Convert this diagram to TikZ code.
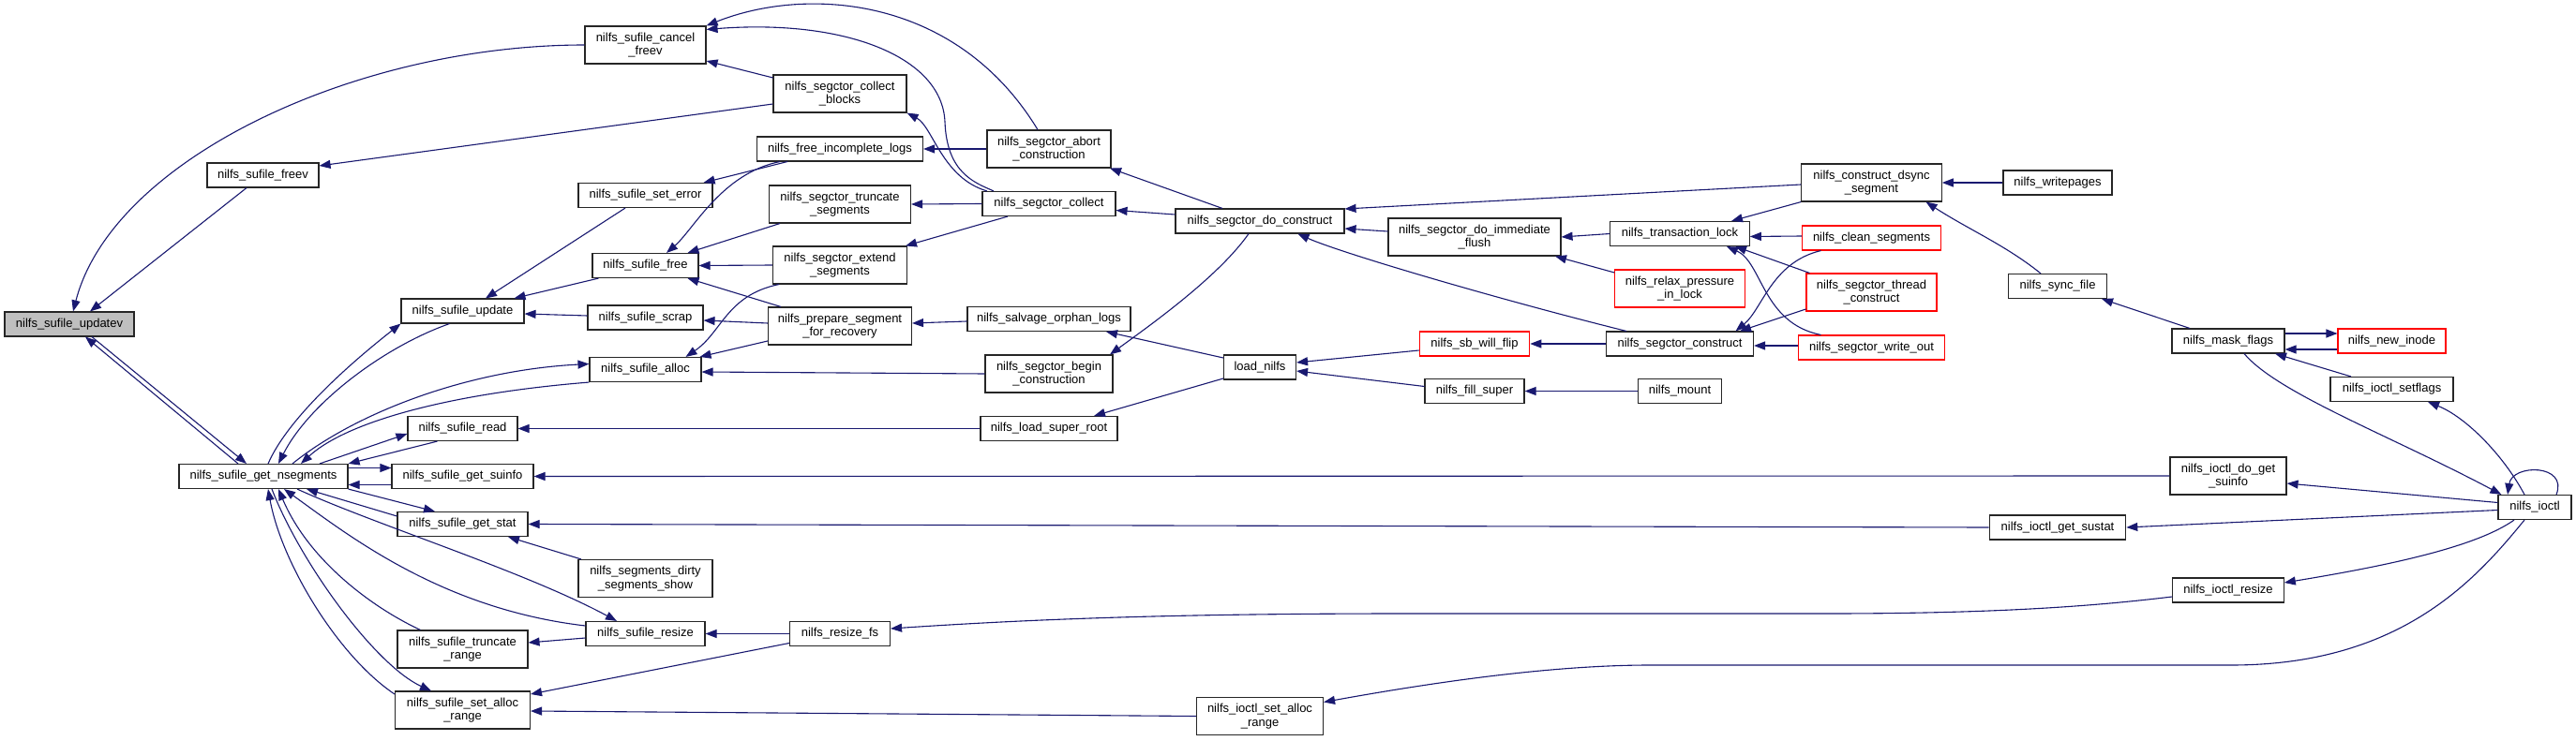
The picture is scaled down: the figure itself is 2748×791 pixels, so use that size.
\documentclass[tikz,border=0pt]{standalone}
\usepackage{fontspec}
\setmainfont{Liberation Sans}
\usetikzlibrary{arrows.meta}
\definecolor{edgecol}{HTML}{191970}
\tikzset{
  box/.style={draw=black!85, line width=1.1pt, fill=white, inner sep=0pt, align=center,
              font=\fontsize{13}{14.5}\selectfont},
  redbox/.style={box, draw=red},
  hl/.style={box, fill=black!25},
  one/.style={minimum height=26pt},
  two/.style={minimum height=40pt},
  edge/.style={draw=edgecol, line width=1.1pt, {Triangle[length=12pt,width=9pt]}-},
}
\begin{document}
\begin{tikzpicture}[x=1pt,y=-1pt]
\fill[white] (0,0) rectangle (2748,791);
\useasboundingbox (0,0) rectangle (2748,791);
% column 0-1
\node[hl,one,minimum width=138pt] (updatev) at (74,346) {nilfs\_sufile\_updatev};
\node[box,one,minimum width=119pt] (freev) at (280.5,187) {nilfs\_sufile\_freev};
\node[box,one,minimum width=180pt] (nsegments) at (281,508.5) {nilfs\_sufile\_get\_nsegments};
% column 2
\node[box,one,minimum width=131pt] (update) at (493.5,332) {nilfs\_sufile\_update};
\node[box,one,minimum width=117pt] (read) at (493.5,457.5) {nilfs\_sufile\_read};
\node[box,one,minimum width=151pt] (suinfo) at (493.5,508.5) {nilfs\_sufile\_get\_suinfo};
\node[box,one,minimum width=139pt] (stat) at (493.5,559.5) {nilfs\_sufile\_get\_stat};
\node[box,two,minimum width=139pt] (truncrange) at (493.5,693) {nilfs\_sufile\_truncate\\\_range};
\node[box,two,minimum width=144pt] (setalloc) at (493.5,758) {nilfs\_sufile\_set\_alloc\\\_range};
% column 3
\node[box,two,minimum width=129pt] (cancel) at (688.5,48) {nilfs\_sufile\_cancel\\\_freev};
\node[box,one,minimum width=143pt] (seterror) at (688.5,208.5) {nilfs\_sufile\_set\_error};
\node[box,one,minimum width=113pt] (free) at (688.5,283.5) {nilfs\_sufile\_free};
\node[box,one,minimum width=123pt] (scrap) at (688.5,339) {nilfs\_sufile\_scrap};
\node[box,one,minimum width=119pt] (alloc) at (688.5,394.5) {nilfs\_sufile\_alloc};
\node[box,two,minimum width=143pt] (dirty) at (688.5,617.5) {nilfs\_segments\_dirty\\\_segments\_show};
\node[box,one,minimum width=127pt] (resize) at (688.5,676.5) {nilfs\_sufile\_resize};
% column 4
\node[box,two,minimum width=142pt] (cblocks) at (896,100) {nilfs\_segctor\_collect\\\_blocks};
\node[box,one,minimum width=177pt] (incomplete) at (896,159) {nilfs\_free\_incomplete\_logs};
\node[box,two,minimum width=151pt] (truncseg) at (896,218) {nilfs\_segctor\_truncate\\\_segments};
\node[box,two,minimum width=143pt] (extend) at (896,283) {nilfs\_segctor\_extend\\\_segments};
\node[box,two,minimum width=153pt] (prepare) at (896,348) {nilfs\_prepare\_segment\\\_for\_recovery};
\node[box,one,minimum width=107pt] (resizefs) at (896,676.5) {nilfs\_resize\_fs};
% column 5
\node[box,two,minimum width=132pt] (abort) at (1119,159) {nilfs\_segctor\_abort\\\_construction};
\node[box,one,minimum width=142pt] (collect) at (1119,217.5) {nilfs\_segctor\_collect};
\node[box,one,minimum width=174pt] (salvage) at (1119,340.5) {nilfs\_salvage\_orphan\_logs};
\node[box,two,minimum width=136pt] (begin) at (1119,399) {nilfs\_segctor\_begin\\\_construction};
\node[box,one,minimum width=146pt] (superroot) at (1119,457.5) {nilfs\_load\_super\_root};
% column 6
\node[box,one,minimum width=180pt] (doconstruct) at (1344,236) {nilfs\_segctor\_do\_construct};
\node[box,one,minimum width=77pt] (loadnilfs) at (1344,392) {load\_nilfs};
\node[box,two,minimum width=135pt] (ioctlsetalloc) at (1344,764.5) {nilfs\_ioctl\_set\_alloc\\\_range};
% column 7
\node[box,two,minimum width=184pt] (flush) at (1573,253) {nilfs\_segctor\_do\_immediate\\\_flush};
\node[redbox,one,minimum width=117.5pt] (flip) at (1573,367) {nilfs\_sb\_will\_flip};
\node[box,one,minimum width=106pt] (fillsuper) at (1573,417.5) {nilfs\_fill\_super};
% column 8
\node[box,one,minimum width=148.5pt] (lock) at (1792,249.5) {nilfs\_transaction\_lock};
\node[redbox,two,minimum width=138.5pt] (relax) at (1792,308) {nilfs\_relax\_pressure\\\_in\_lock};
\node[box,one,minimum width=157pt] (construct) at (1792,367) {nilfs\_segctor\_construct};
\node[box,one,minimum width=89pt] (mount) at (1792,417.5) {nilfs\_mount};
% column 9
\node[box,two,minimum width=149.5pt] (dsync) at (1996.5,195) {nilfs\_construct\_dsync\\\_segment};
\node[redbox,one,minimum width=147.5pt] (clean) at (1996.5,254) {nilfs\_clean\_segments};
\node[redbox,two,minimum width=139pt] (thread) at (1996.5,312) {nilfs\_segctor\_thread\\\_construct};
\node[redbox,one,minimum width=156.5pt] (writeout) at (1996.5,371) {nilfs\_segctor\_write\_out};
% column 10
\node[box,one,minimum width=116pt] (writepages) at (2195,195) {nilfs\_writepages};
\node[box,one,minimum width=105pt] (syncfile) at (2195,305.5) {nilfs\_sync\_file};
\node[box,one,minimum width=145.5pt] (sustat) at (2195,563) {nilfs\_ioctl\_get\_sustat};
% column 11
\node[box,one,minimum width=120pt] (maskflags) at (2377,364) {nilfs\_mask\_flags};
\node[box,two,minimum width=124pt] (dogetsuinfo) at (2377,508) {nilfs\_ioctl\_do\_get\\\_suinfo};
\node[box,one,minimum width=118.5pt] (ioctlresize) at (2377,630) {nilfs\_ioctl\_resize};
% column 12-13
\node[redbox,one,minimum width=115pt] (newinode) at (2551.5,364) {nilfs\_new\_inode};
\node[box,one,minimum width=131pt] (setflags) at (2551.5,415.5) {nilfs\_ioctl\_setflags};
\node[box,one,minimum width=78pt] (ioctl) at (2704,541.5) {nilfs\_ioctl};

% ---- edges (arrow head at the first end)
\draw[edge] ([xshift=4pt]updatev.north) .. controls (120,170) and (380,48) .. (cancel.west);
\draw[edge] ([xshift=22pt]updatev.north) -- ([xshift=-17.5pt]freev.south);
\draw[edge] ([xshift=17pt]updatev.south) -- ([xshift=-27pt]nsegments.north);
\draw[edge] ([xshift=-18pt]nsegments.north) -- ([xshift=24pt]updatev.south);
\draw[edge] ([yshift=10pt]freev.east) -- ([yshift=-11pt]cblocks.west);
\draw[edge] ([yshift=-17pt]cancel.east) -- ([yshift=17pt]cblocks.west);
\draw[edge] (cancel.north east) .. controls (860,-15) and (1020,-5) .. ([xshift=-12pt]abort.north);
\draw[edge] ([yshift=-4pt]cancel.north east) .. controls (900,20) and (1005,60) .. (1008,130) .. controls (1010,185) and (1040,195) .. ([xshift=-59pt]collect.north);
\draw[edge] (cblocks.south east) .. controls (995,135) and (1005,190) .. ([xshift=-66pt]collect.north);
\draw[edge] (incomplete.east) -- (abort.west);
\draw[edge] ([xshift=-10pt]seterror.north east) -- ([xshift=-56pt]incomplete.south);
\draw[edge] ([xshift=22.5pt]free.north) .. controls (740,245) and (770,185) .. ([xshift=-64pt]incomplete.south);
\draw[edge] ([xshift=45pt]free.north) -- ([xshift=-64pt]truncseg.south);
\draw[edge] (free.east) -- (extend.west);
\draw[edge] ([xshift=45pt]free.south) -- ([xshift=-63pt]prepare.north);
\draw[edge] ([yshift=-3pt]scrap.east) -- ([yshift=3pt]prepare.west);
\draw[edge] ([xshift=58pt]alloc.north) -- ([yshift=-16pt]prepare.west);
\draw[edge] ([xshift=43pt]alloc.north) .. controls (770,355) and (775,315) .. ([xshift=-65pt]extend.south);
\draw[edge] ([yshift=-2.5pt]alloc.east) -- (begin.west);
\draw[edge] (truncseg.east) -- (collect.west);
\draw[edge] ([xshift=70pt]extend.north) -- ([xshift=-44pt]collect.south);
\draw[edge] ([yshift=3pt]prepare.east) -- ([yshift=-2.5pt]salvage.west);
\draw[edge] ([xshift=61pt]salvage.south) -- ([yshift=10pt]loadnilfs.west);
\draw[edge] ([xshift=65pt]begin.north) .. controls (1230,345) and (1300,295) .. ([xshift=-12pt]doconstruct.south);
\draw[edge] ([xshift=65pt]abort.south) -- ([xshift=-40pt]doconstruct.north);
\draw[edge] ([yshift=-7pt]collect.east) -- ([yshift=7pt]doconstruct.west);
\draw[edge] ([yshift=13pt]doconstruct.east) -- ([yshift=-2pt]dsync.west);
\draw[edge] ([yshift=-8pt]doconstruct.east) -- ([yshift=6pt]flush.west);
\draw[edge] ([xshift=40.5pt]doconstruct.south) .. controls (1430,270) and (1600,320) .. ([xshift=-57pt]construct.north);
\draw[edge] (flush.east) -- (lock.west);
\draw[edge] ([xshift=86pt]flush.south) -- ([yshift=17pt]relax.west);
\draw[edge] ([xshift=55pt]lock.north) -- (dsync.south west);
\draw[edge] ([yshift=-3pt]lock.east) -- ([yshift=2pt]clean.west);
\draw[edge] ([xshift=59pt]lock.south) -- ([xshift=4pt]thread.north west);
\draw[edge] ([xshift=50pt]lock.south) .. controls (1880,280) and (1880,345) .. ([xshift=-54pt]writeout.north);
\draw[edge] ([xshift=59.5pt]construct.north) .. controls (1880,330) and (1890,280) .. ([xshift=-54pt]clean.south);
\draw[edge] ([xshift=64pt]construct.north) -- ([yshift=-18pt]thread.west);
\draw[edge] ([yshift=-2pt]construct.east) -- ([yshift=2pt]writeout.west);
\draw[edge] (flip.east) -- (construct.west);
\draw[edge] ([yshift=5pt]loadnilfs.east) -- ([yshift=-7pt]flip.west);
\draw[edge] ([yshift=-4pt]loadnilfs.east) -- ([yshift=5pt]fillsuper.west);
\draw[edge] (fillsuper.east) -- (mount.west);
\draw[edge] ([xshift=48pt]superroot.north) -- ([yshift=-12pt]loadnilfs.west);
\draw[edge] (read.east) -- (superroot.west);
\draw[edge] (suinfo.east) -- (dogetsuinfo.west);
\draw[edge] (stat.east) -- (sustat.west);
\draw[edge] (sustat.east) -- ([yshift=-3pt]ioctl.west);
\draw[edge] ([yshift=-8pt]dogetsuinfo.east) -- ([yshift=5pt]ioctl.west);
\draw[edge] ([yshift=8pt]ioctlresize.east) .. controls (2540,605) and (2640,585) .. ([xshift=-22pt]ioctl.south);
\draw[edge] ([yshift=15pt]ioctlsetalloc.east) .. controls (1520,730) and (1650,710) .. (1760,710) -- (2380,710) .. controls (2560,710) and (2640,620) .. ([xshift=-11pt]ioctl.south);
\draw[edge] ([yshift=5.5pt]resizefs.east) .. controls (1100,661) and (1250,655) .. (1500,655) -- (1950,655) .. controls (2150,655) and (2250,645) .. ([yshift=-7pt]ioctlresize.west);
\draw[edge] (resize.east) -- (resizefs.west);
\draw[edge] ([yshift=17pt]setalloc.east) -- ([yshift=-10pt]resizefs.west);
\draw[edge] ([yshift=-1pt]setalloc.east) -- (ioctlsetalloc.west);
\draw[edge] (dsync.east) -- (writepages.west);
\draw[edge] ([xshift=58pt]dsync.south) .. controls (2100,245) and (2140,262) .. ([xshift=-18pt]syncfile.north);
\draw[edge] ([xshift=47pt]syncfile.south) -- ([xshift=-41pt]maskflags.north);
\draw[edge] ([yshift=8pt]newinode.west) -- ([yshift=8pt]maskflags.east);
\draw[edge] ([yshift=-9pt]maskflags.east) -- ([yshift=-9pt]newinode.west);
\draw[edge] ([xshift=50pt]maskflags.south) -- ([xshift=-43.5pt]setflags.north);
\draw[edge] ([xshift=4pt]ioctl.north west) .. controls (2550,465) and (2430,420) .. ([xshift=17pt]maskflags.south);
\draw[edge] ([xshift=38.5pt]setflags.south) .. controls (2630,445) and (2670,485) .. ([xshift=-11pt]ioctl.north);
\draw[edge] ([xshift=-29pt]ioctl.north) .. controls (2680,495) and (2740,495) .. ([xshift=23pt]ioctl.north);
% around get_nsegments
\draw[edge] (update.south west) .. controls (390,375) and (310,440) .. ([xshift=5pt]nsegments.north);
\draw[edge] ([xshift=16pt]nsegments.north) .. controls (330,430) and (410,370) .. ([xshift=-14pt]update.south);
\draw[edge] ([yshift=6pt]alloc.west) .. controls (500,395) and (380,440) .. ([xshift=31pt]nsegments.north);
\draw[edge] ([xshift=40pt]nsegments.north) .. controls (370,450) and (480,420) .. (alloc.south west);
\draw[edge] ([yshift=-5.5pt]read.west) -- ([xshift=60pt]nsegments.north);
\draw[edge] (nsegments.north east) -- ([xshift=-27pt]read.south);
\draw[edge] ([yshift=9pt]suinfo.west) -- ([yshift=9pt]nsegments.east);
\draw[edge] ([yshift=-9pt]nsegments.east) -- ([yshift=-9pt]suinfo.west);
\draw[edge] ([xshift=-29.5pt]stat.north) -- (nsegments.south east);
\draw[edge] ([xshift=46pt]nsegments.south) -- ([yshift=8.5pt]stat.west);
\draw[edge] ([xshift=48.5pt]stat.south) -- ([xshift=3.5pt]dirty.north west);
\draw[edge] ([xshift=-30.5pt]resize.north) .. controls (560,610) and (400,560) .. ([xshift=36pt]nsegments.south);
\draw[edge] ([xshift=22pt]nsegments.south) .. controls (370,570) and (470,650) .. ([yshift=8.5pt]resize.west);
\draw[edge] ([yshift=7pt]truncrange.east) -- ([yshift=-4.5pt]resize.west);
\draw[edge] ([xshift=16pt]nsegments.south) .. controls (330,600) and (400,650) .. ([xshift=-45pt]truncrange.north);
\draw[edge] ([xshift=-33.5pt]setalloc.north) .. controls (400,710) and (320,600) .. ([xshift=9pt]nsegments.south);
\draw[edge] ([xshift=5pt]nsegments.south) .. controls (300,600) and (360,700) .. ([yshift=17pt]setalloc.west);
\draw[edge] ([xshift=24.5pt]update.north) -- ([xshift=-21.5pt]seterror.south);
\draw[edge] ([xshift=55pt]update.north) -- ([xshift=-50pt]free.south);
\draw[edge] ([yshift=-3pt]update.east) -- ([yshift=2pt]scrap.west);
\end{tikzpicture}
\end{document}
